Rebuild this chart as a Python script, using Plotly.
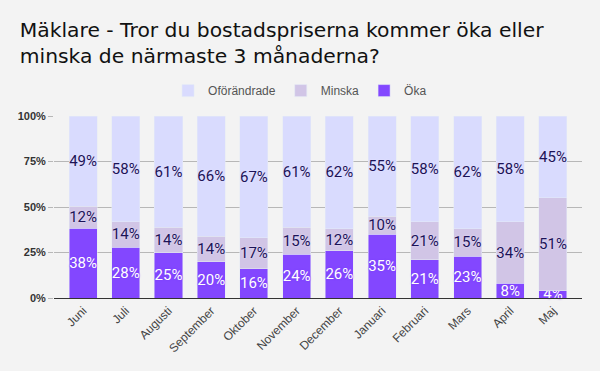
import plotly.graph_objects as go

months = ["Juni", "Juli", "Augusti", "September", "Oktober", "November",
          "December", "Januari", "Februari", "Mars", "April", "Maj"]
oka = [38, 28, 25, 20, 16, 24, 26, 35, 21, 23, 8, 4]
minska = [12, 14, 14, 14, 17, 15, 12, 10, 21, 15, 34, 51]
oforandrade = [49, 58, 61, 66, 67, 61, 62, 55, 58, 62, 58, 45]

dark = "#1c1357"
lbl_font = dict(family="Roboto, Arial, sans-serif", size=15)
common = dict(textposition="inside", insidetextanchor="middle", textangle=0,
              constraintext="none", cliponaxis=False)

fig = go.Figure()
fig.add_trace(go.Bar(
    name="Öka", x=months, y=oka, marker_color="#8347ff",
    text=[f"{v}%" for v in oka],
    textfont=dict(color="white", shadow="0px 0px 2px #7a3df5", **lbl_font),
    **common,
))
fig.add_trace(go.Bar(
    name="Minska", x=months, y=minska, marker_color="#d1c5e6",
    text=[f"{v}%" for v in minska],
    textfont=dict(color=dark, shadow="0px 0px 2px #e8e4ff", **lbl_font),
    **common,
))
fig.add_trace(go.Bar(
    name="Oförändrade", x=months, y=oforandrade, marker_color="#d9dbfe",
    text=[f"{v}%" for v in oforandrade],
    textfont=dict(color=dark, shadow="0px 0px 2px #e8e4ff", **lbl_font),
    **common,
))

fig.update_layout(
    barmode="stack", barnorm="percent", bargap=0.344,
    width=600, height=371,
    paper_bgcolor="#f3f3f3", plot_bgcolor="#f3f3f3",
    margin=dict(l=54, r=18, t=116, b=73),
    font=dict(family="Liberation Sans, Arial, sans-serif", color="#333"),
    title=dict(
        text="Mäklare - Tror du bostadspriserna kommer öka eller<br>minska de närmaste 3 månaderna?",
        x=0.033, xanchor="left", y=0.9, yanchor="top", pad=dict(l=0, t=0),
        font=dict(family="DejaVu Sans, sans-serif", size=20.3, color="#111"),
    ),
    legend=dict(
        orientation="h", x=0.466, xanchor="center", y=1.06, yanchor="bottom",
        traceorder="reversed", font=dict(size=12, color="#555"),
        itemwidth=30,
    ),
    uniformtext=dict(minsize=15, mode="show"),
)
fig.update_xaxes(
    range=[-0.68, 11.68],
    tickangle=-45, tickfont=dict(size=12, color="#444"), automargin=False,
    showline=True, linecolor="#333", linewidth=1, showgrid=False,
)
fig.update_yaxes(
    range=[0, 100], tickvals=[0, 25, 50, 75, 100], automargin=False,
    ticktext=["<b>0%</b>", "<b>25%</b>", "<b>50%</b>", "<b>75%</b>", "<b>100%</b>"],
    tickfont=dict(size=11, color="#333"),
    gridcolor="#b7b7b7", zeroline=False,
    ticks="outside", ticklen=5, tickcolor="#b7b7b7",
)

fig.write_html("out.html", config={"displayModeBar": False},
               post_script="document.body.style.margin='0';")
